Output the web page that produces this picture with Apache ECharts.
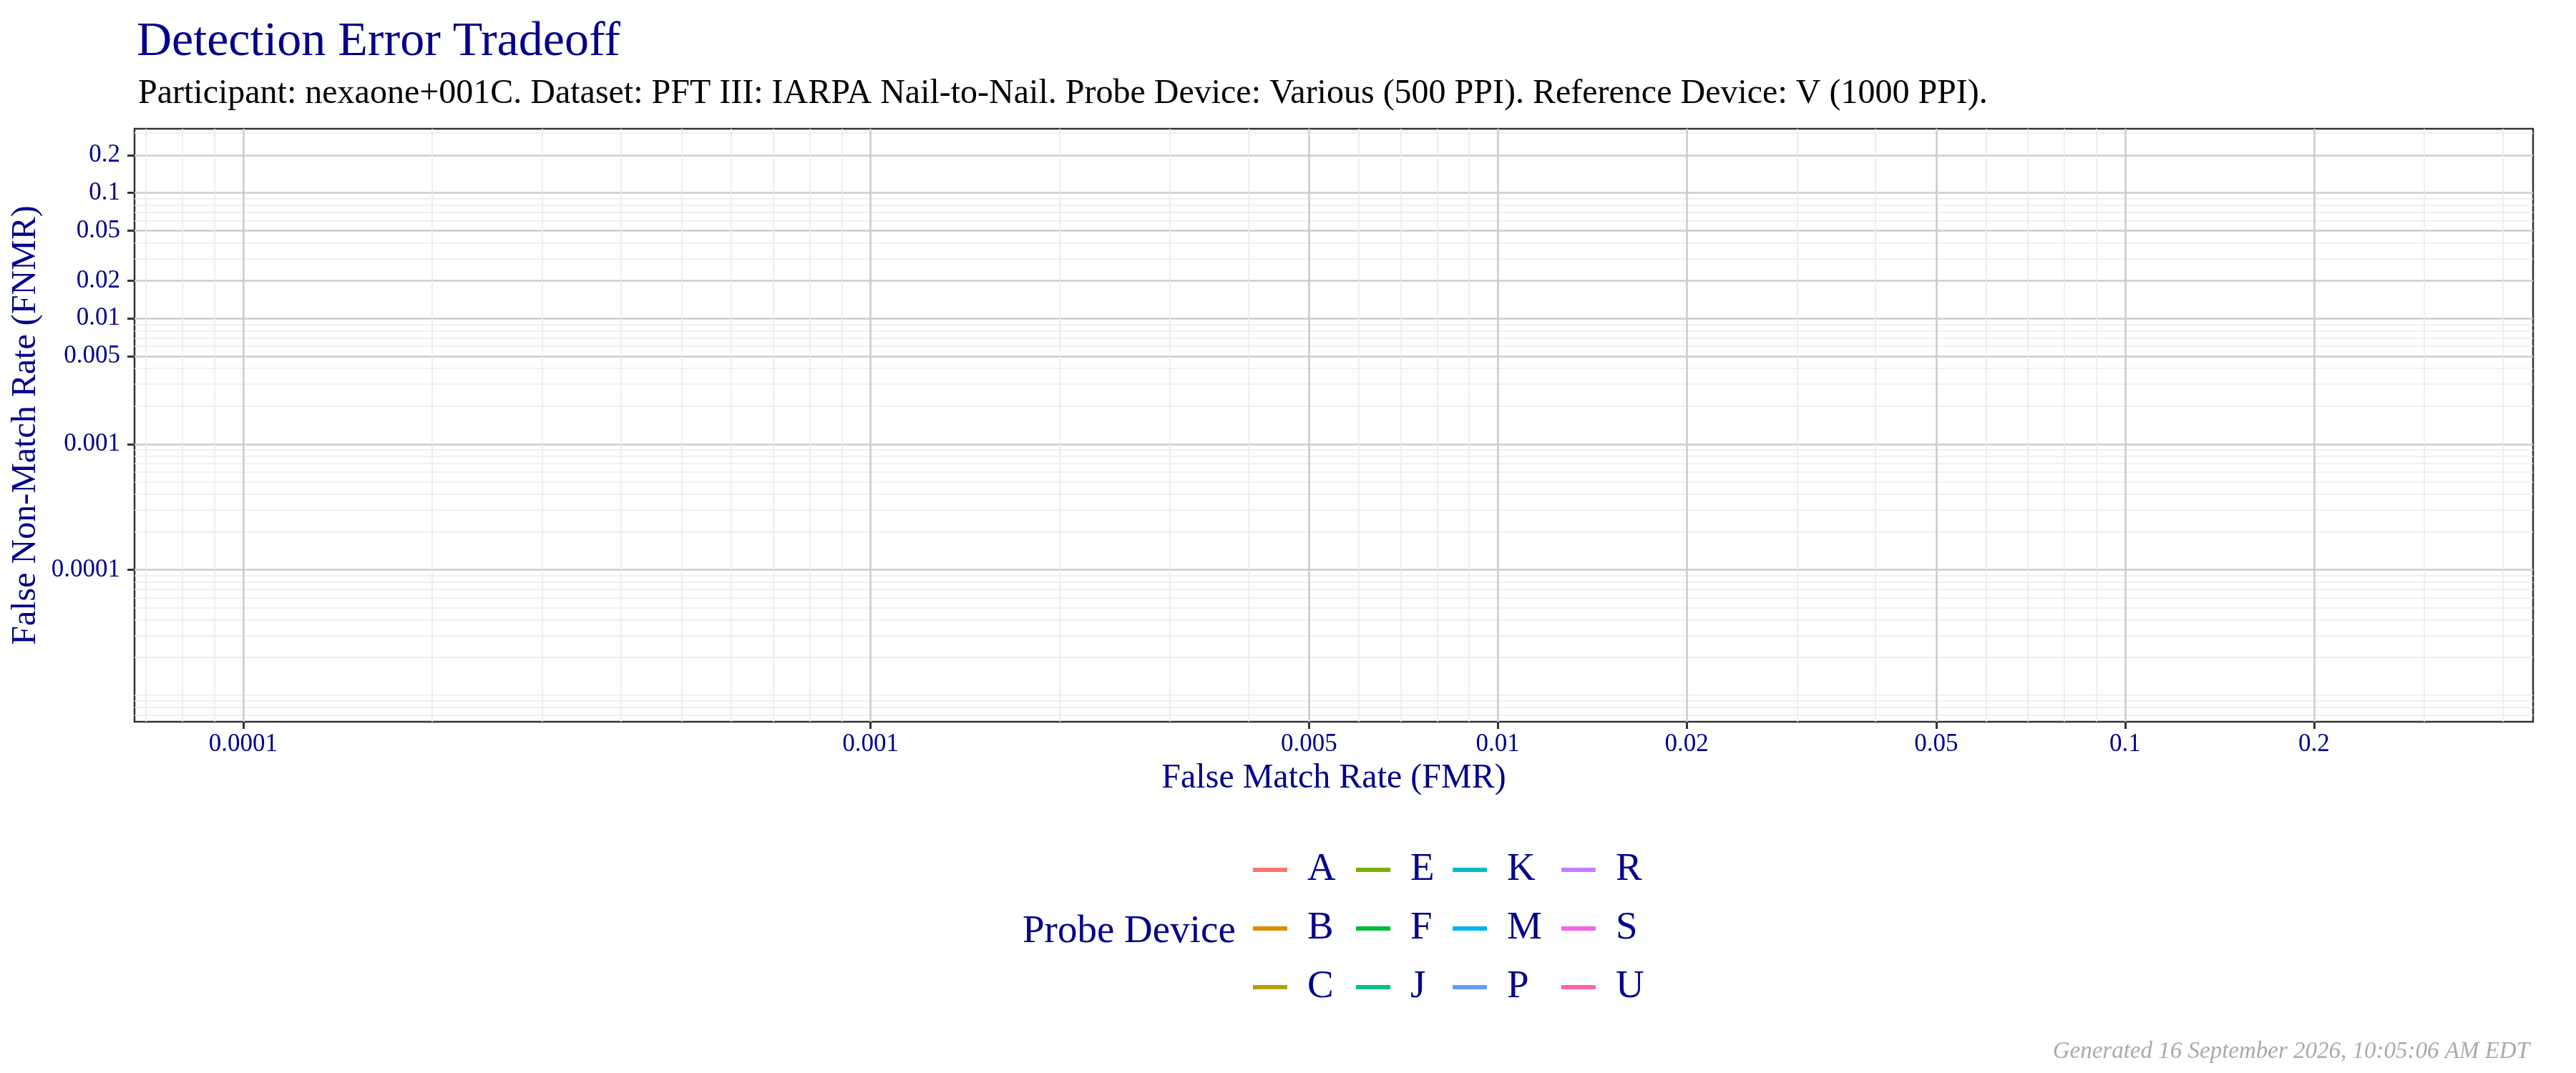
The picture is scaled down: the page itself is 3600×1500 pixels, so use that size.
<!DOCTYPE html>
<html>
<head>
<meta charset="utf-8">
<title>Detection Error Tradeoff</title>
<script src="https://cdn.jsdelivr.net/npm/echarts@6/dist/echarts.min.js"></script>
<style>html,body{margin:0;padding:0;background:#fff;}</style>
</head>
<body>
<div id="det" style="width:3600px;height:1500px;"></div>
<script>
var devices = ['A', 'B', 'C', 'E', 'F', 'J', 'K', 'M', 'P', 'R', 'S', 'U'];
var deviceColors = ['#F8766D', '#DE8C00', '#B79F00', '#7CAE00', '#00BA38', '#00C08B',
                    '#00BFC4', '#00B4F0', '#619CFF', '#C77CFF', '#F564E3', '#FF64B0'];

// the reference panel has no curve drawn in it: every device has no DET points
var fmrValues  = [[], [], [], [], [], [], [], [], [], [], [], []];
var fnmrValues = [[], [], [], [], [], [], [], [], [], [], [], []];

var xTickLabels = ['0.0001', '0.001', '0.005', '0.01', '0.02', '0.05', '0.1', '0.2'];
var yTickLabels = ['0.0001', '0.001', '0.005', '0.01', '0.02', '0.05', '0.1', '0.2'];
var xLimits = [6.71e-5, 0.447];
var yLimits = [6.16e-6, 0.324];

var titleText = 'Detection Error Tradeoff';
var subtitleText = 'Participant: nexaone+001C. Dataset: PFT III: IARPA Nail-to-Nail. Probe Device: Various (500 PPI). Reference Device: V (1000 PPI).';
var footerText = 'Generated 16 September 2026, 10:05:06 AM EDT';

var FONT = 'Liberation Serif';
var BLUE = '#00008B';

function lg(v) { return Math.log10(v); }

// grid lines at every n * 10^k that is not a labelled break
function minorLines(limits, labels) {
    var out = [];
    var majors = labels.map(function (l) { return lg(Number(l)).toFixed(6); });
    for (var k = Math.floor(lg(limits[0])); k <= Math.ceil(lg(limits[1])); k++) {
        for (var n = 1; n <= 9; n++) {
            var v = n * Math.pow(10, k);
            if (v < limits[0] || v > limits[1]) continue;
            if (majors.indexOf(lg(v).toFixed(6)) >= 0) continue;
            out.push(lg(v));
        }
    }
    return out;
}

function labelFormatter(labels) {
    var lookup = {};
    labels.forEach(function (l) { lookup[lg(Number(l)).toFixed(6)] = l; });
    return function (val) { return lookup[Number(val).toFixed(6)] || ''; };
}

var xMajor = xTickLabels.map(function (l) { return lg(Number(l)); });
var yMajor = yTickLabels.map(function (l) { return lg(Number(l)); });

function minorAxis(limits, labels, pos) {
    return {
        type: 'value',
        position: pos,
        min: lg(limits[0]),
        max: lg(limits[1]),
        axisLine: { show: false },
        axisTick: { show: false, customValues: minorLines(limits, labels) },
        axisLabel: { show: false },
        splitLine: { show: true, lineStyle: { color: '#EBEBEB', width: 1.6 } }
    };
}

var myChart = echarts.init(document.getElementById('det'));

var series = devices.map(function (d, i) {
    return {
        name: d,
        type: 'line',
        xAxisIndex: 1,
        yAxisIndex: 1,
        showSymbol: false,
        lineStyle: { color: deviceColors[i], width: 3 },
        itemStyle: { color: deviceColors[i] },
        data: fmrValues[i].map(function (x, j) { return [lg(x), lg(fnmrValues[i][j])]; })
    };
});

var legendCols = [['A', 'B', 'C'], ['E', 'F', 'J'], ['K', 'M', 'P'], ['R', 'S', 'U']];
var legendLeft = [1751, 1895, 2030, 2182];
var legends = legendCols.map(function (col, c) {
    return {
        orient: 'vertical',
        left: legendLeft[c],
        top: 1188,
        padding: 0,
        itemGap: 26,
        itemWidth: 48,
        itemHeight: 6,
        icon: 'rect',
        selectedMode: false,
        data: col,
        textStyle: {
            fontFamily: FONT, fontSize: 55, lineHeight: 56, color: BLUE,
            padding: [0, 0, 0, 23]
        }
    };
});

option = {
    backgroundColor: '#fff',
    animation: false,
    title: [{
        text: titleText,
        left: 186, top: 20,
        textStyle: { fontFamily: FONT, fontSize: 68, fontWeight: 'normal', color: BLUE }
    }, {
        text: subtitleText,
        left: 188, top: 102,
        textStyle: { fontFamily: FONT, fontSize: 48, fontWeight: 'normal', color: '#000' }
    }, {
        text: 'Probe Device',
        left: 1424, top: 1270,
        textStyle: { fontFamily: FONT, fontSize: 55, fontWeight: 'normal', color: BLUE }
    }, {
        text: footerText,
        right: 60, top: 1449,
        textStyle: { fontFamily: FONT, fontSize: 33, fontWeight: 'normal', fontStyle: 'italic', color: '#AAAAAA' }
    }],
    legend: legends,
    grid: {
        left: 188, right: 60, top: 180, bottom: 491,
        containLabel: false,
        outerBoundsMode: 'none',
        show: true, borderColor: '#333333', borderWidth: 2.5, backgroundColor: 'transparent'
    },
    xAxis: [minorAxis(xLimits, xTickLabels, 'bottom'), {
        type: 'value',
        position: 'bottom',
        min: lg(xLimits[0]),
        max: lg(xLimits[1]),
        name: 'False Match Rate (FMR)',
        nameLocation: 'middle',
        nameGap: 55,
        nameTextStyle: { fontFamily: FONT, fontSize: 48, color: BLUE },
        axisLine: { show: false },
        axisTick: { show: true, customValues: xMajor, length: 10, lineStyle: { color: '#333333', width: 3 } },
        axisLabel: {
            customValues: xMajor, margin: 14, formatter: labelFormatter(xTickLabels),
            fontFamily: FONT, fontSize: 35, color: BLUE
        },
        splitLine: { show: true, lineStyle: { color: '#CCCCCC', width: 2.6 } }
    }],
    yAxis: [minorAxis(yLimits, yTickLabels, 'left'), {
        type: 'value',
        position: 'left',
        min: lg(yLimits[0]),
        max: lg(yLimits[1]),
        name: 'False Non-Match Rate (FNMR)',
        nameLocation: 'middle',
        nameGap: 120,
        nameTextStyle: { fontFamily: FONT, fontSize: 48, color: BLUE },
        axisLine: { show: false },
        axisTick: { show: true, customValues: yMajor, length: 10, lineStyle: { color: '#333333', width: 3 } },
        axisLabel: {
            customValues: yMajor, margin: 20, formatter: labelFormatter(yTickLabels),
            fontFamily: FONT, fontSize: 35, color: BLUE
        },
        splitLine: { show: true, lineStyle: { color: '#CCCCCC', width: 2.6 } }
    }],
    series: series
};

myChart.setOption(option);
</script>
</body>
</html>
